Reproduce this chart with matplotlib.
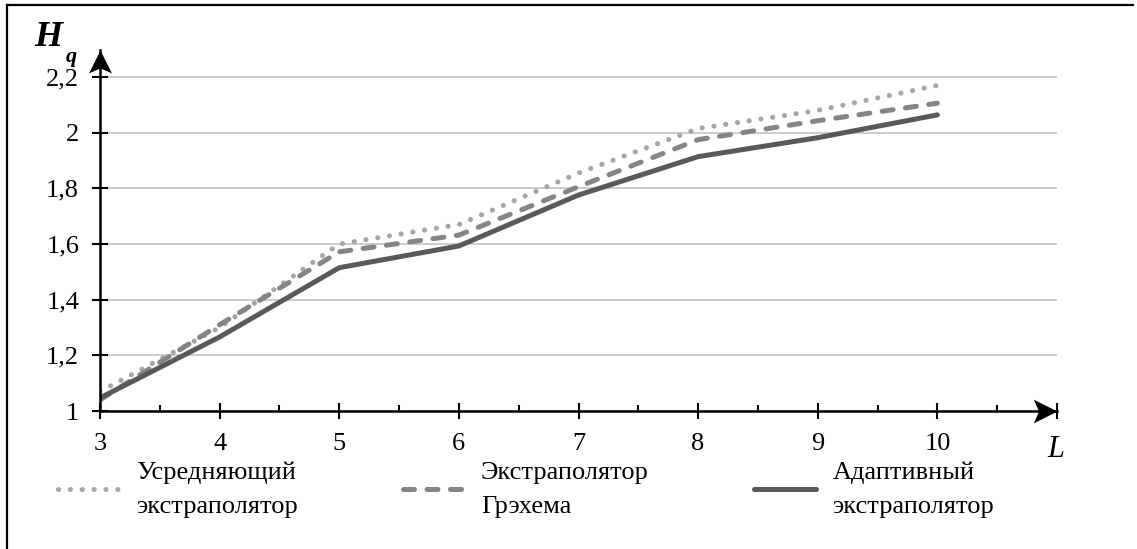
import matplotlib
matplotlib.use("Agg")
import matplotlib.pyplot as plt
from matplotlib.path import Path
from matplotlib.lines import Line2D
import numpy as np

plt.rcParams['font.family'] = ['Liberation Serif', 'DejaVu Serif']

# data
L = [3, 4, 5, 6, 7, 8, 9, 10]
averaging = [1.07, 1.30, 1.60, 1.67, 1.855, 2.015, 2.08, 2.17]
graham = [1.04, 1.31, 1.572, 1.632, 1.806, 1.975, 2.043, 2.106]
adaptive = [1.047, 1.266, 1.515, 1.593, 1.776, 1.914, 1.982, 2.064]

labels = [
    "Усредняющий\nэкстраполятор",
    "Экстраполятор\nГрэхема",
    "Адаптивный\nэкстраполятор",
]

y_ticks = [1, 1.2, 1.4, 1.6, 1.8, 2, 2.2]
x_ticks = [3, 4, 5, 6, 7, 8, 9, 10, 11]
x_tick_labels = ['3', '4', '5', '6', '7', '8', '9', '10', '']

W, H = 1137, 549
fig = plt.figure(figsize=(W / 100, H / 100), dpi=100)
ax = fig.add_axes([100 / W, (H - 411) / H, (1057 - 100) / W, (411 - 50) / H])

ax.set_xlim(3, 11)
ax.set_ylim(1, 1 + 361 / 278.3)

l1, = ax.plot(L, averaging, color='#a6a6a6', lw=3.7, dashes=(0.01, 2.3),
              dash_capstyle='round', solid_capstyle='round')
l2, = ax.plot(L, graham, color='#858585', lw=3.6, dashes=(2.2, 2.5),
              dash_capstyle='round')
l3, = ax.plot(L, adaptive, color='#595959', lw=3.6, solid_capstyle='round',
              solid_joinstyle='round')

for s in ['top', 'right']:
    ax.spines[s].set_visible(False)
for s in ['left', 'bottom']:
    ax.spines[s].set_linewidth(1.8)

ax.set_yticks(y_ticks)
ax.set_yticklabels([f"{v:g}".replace('.', ',') for v in y_ticks])
ax.set_xticks(x_ticks)
ax.set_xticklabels(x_tick_labels)
ax.set_xticks(np.arange(3.5, 11, 1), minor=True)

ax.tick_params(which='major', direction='inout', length=12, width=1.5,
               labelsize=19, color='k')
ax.tick_params(axis='y', pad=9)
ax.tick_params(axis='x', pad=10)
ax.tick_params(axis='x', which='minor', direction='in', length=4.5, width=1.5)

ax.yaxis.grid(True, color='#c4c4c4', lw=1.2)
ax.set_axisbelow(True)

# arrow heads at the ends of the axes
up = Path([(0, 0), (-0.5, -1.0), (0, -0.78), (0.5, -1.0), (0, 0)],
          [Path.MOVETO, Path.LINETO, Path.LINETO, Path.LINETO, Path.CLOSEPOLY])
right = Path([(0, 0), (-1.0, 0.5), (-0.78, 0), (-1.0, -0.5), (0, 0)],
             [Path.MOVETO, Path.LINETO, Path.LINETO, Path.LINETO, Path.CLOSEPOLY])
ax.plot([0], [1], marker=up, ms=33, color='k', transform=ax.transAxes,
        clip_on=False, mew=0)
ax.plot([1], [0], marker=right, ms=34, color='k', transform=ax.transAxes,
        clip_on=False, mew=0)

# axis names
ax.annotate('H', xy=(0, 1), xycoords='axes fraction', xytext=(-37, 9),
            textcoords='offset points', ha='center', va='center',
            fontsize=26, fontweight='bold', fontstyle='italic')
ax.annotate('q', xy=(0, 1), xycoords='axes fraction', xytext=(-21, -5),
            textcoords='offset points', ha='center', va='center',
            fontsize=16, fontweight='bold', fontstyle='italic')
ax.annotate('L', xy=(1, 0), xycoords='axes fraction', xytext=(-1, -28),
            textcoords='offset points', ha='center', va='center',
            fontsize=22, fontstyle='italic')

leg = fig.legend([l1, l2, l3], labels, loc='center left',
                 bbox_to_anchor=(58 / W, (H - 490) / H), ncol=3,
                 frameon=False, fontsize=19, handlelength=2.35,
                 handletextpad=0.6, columnspacing=4.0, borderpad=0,
                 borderaxespad=0)
for t in leg.get_texts():
    t.set_linespacing(1.7)

# outer frame (left and top edges)
fig.add_artist(Line2D([7 / W, 7 / W], [0, 1 - 5 / H], color='k', lw=1.6,
                      transform=fig.transFigure))
fig.add_artist(Line2D([7 / W, 1133 / W], [1 - 5 / H, 1 - 5 / H], color='k',
                      lw=1.6, transform=fig.transFigure))

fig.savefig('out.png', dpi=100)
